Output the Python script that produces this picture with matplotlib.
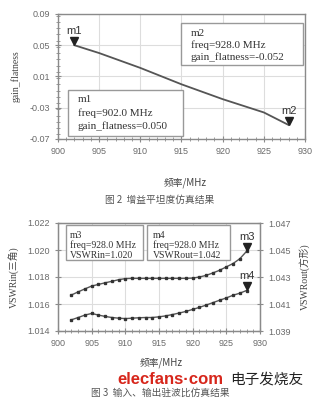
import matplotlib
matplotlib.use("Agg")
import matplotlib.pyplot as plt
import matplotlib.transforms as mtransforms
from matplotlib.patches import Rectangle
from matplotlib.ticker import MultipleLocator

# gain flatness vs frequency
freq_gf = [902, 905, 910, 915, 920, 925, 928]
gain_flatness = [0.050, 0.040, 0.021, 0.000, -0.019, -0.036, -0.052]

# input / output VSWR, 1 MHz steps
freq_vswr = list(range(902, 929))
vswr_in = [1.01667, 1.01690, 1.01712, 1.01733, 1.01745, 1.01757, 1.01768, 1.01780,
           1.01788, 1.01790, 1.01790, 1.01790, 1.01790, 1.01790, 1.01790, 1.01790,
           1.01790, 1.01790, 1.01792, 1.01800, 1.01812, 1.01830, 1.01850, 1.01875,
           1.01900, 1.01935, 1.01990]
vswr_out = [1.03983, 1.04000, 1.04018, 1.04030, 1.04018, 1.04008, 1.04000, 1.03995,
            1.03992, 1.03995, 1.03998, 1.04000, 1.04000, 1.04005, 1.04012, 1.04022,
            1.04033, 1.04045, 1.04060, 1.04075, 1.04092, 1.04110, 1.04128, 1.04145,
            1.04165, 1.04180, 1.04200]

W, H = 322, 400
cjk = ['Noto Sans CJK SC', 'DejaVu Sans']
tick_c = '#6a6a6a'
line_c = '#555555'
frame_c = '#8a8a8a'


def rect(l, t, r, b):
    return [l / W, 1 - b / H, (r - l) / W, (b - t) / H]


def style_axes(ax):
    for s in ax.spines.values():
        s.set_color(frame_c)
        s.set_linewidth(1.0)
    ax.grid(True, which='major', color='#dddddd', lw=0.8)
    ax.tick_params(which='both', colors=frame_c, labelcolor=tick_c,
                   labelsize=6.5, direction='inout')
    ax.tick_params(which='major', length=5)
    ax.tick_params(which='minor', length=2.5)
    for lab in ax.get_xticklabels() + ax.get_yticklabels():
        lab.set_family('Liberation Sans')


def marker_tag(ax, x, y, name):
    off = mtransforms.offset_copy(ax.transData, fig=fig, x=0, y=3, units='points')
    ax.plot([x], [y], marker='v', color='#222222', ms=5.5, transform=off,
            clip_on=False, zorder=5)
    ax.annotate(name, (x, y), xytext=(0, 6.5), textcoords='offset points',
                ha='center', va='bottom', fontsize=8, color='#333333',
                family='Liberation Sans', annotation_clip=False)


def info_box(l, t, r, b, lines, step, size=8, pad=10):
    fig.add_artist(Rectangle((l / W, 1 - b / H), (r - l) / W, (b - t) / H,
                             transform=fig.transFigure, facecolor='white',
                             edgecolor='#999999', lw=1.0, zorder=6))
    for i, s in enumerate(lines):
        fig.text((l + pad) / W, 1 - (t + 10 + i * step) / H, s, fontsize=size,
                 family='Liberation Serif', color='#333333', va='center',
                 zorder=7)


fig = plt.figure(figsize=(W / 100, H / 100), dpi=100)
fig.patch.set_facecolor('white')

# --- gain flatness
ax1 = fig.add_axes(rect(58, 14, 305, 139))
ax1.plot(freq_gf, gain_flatness, color=line_c, lw=1.3)
ax1.set_xlim(900, 930)
ax1.set_ylim(-0.07, 0.09)
ax1.set_xticks(range(900, 931, 5))
ax1.set_yticks([-0.07, -0.03, 0.01, 0.05, 0.09])
ax1.set_yticklabels(['-0.07', '-0.03', '0.01', '0.05', '0.09'])
ax1.xaxis.set_minor_locator(MultipleLocator(1))
ax1.yaxis.set_minor_locator(MultipleLocator(0.008))
style_axes(ax1)
ax1.set_ylabel('gain_flatness', family='Liberation Serif', fontsize=7,
               color='#444444', labelpad=6)
marker_tag(ax1, freq_gf[0], gain_flatness[0], 'm1')
marker_tag(ax1, freq_gf[-1], gain_flatness[-1], 'm2')

info_box(181, 23, 303, 65, ['m2', 'freq=928.0 MHz', 'gain_flatness=-0.052'], 12)
info_box(68, 90, 183, 136, ['m1', 'freq=902.0 MHz', 'gain_flatness=0.050'], 13)

fig.text(185 / W, 1 - 183 / H, '频率/MHz', family=cjk, fontsize=7,
         color='#444444', ha='center', va='center')
fig.text(160 / W, 1 - 200 / H, '图 2  增益平坦度仿真结果', family=cjk, fontsize=7,
         color='#555555', ha='center', va='center')

# --- VSWR in / out
ax2 = fig.add_axes(rect(58, 223, 260, 331))
ax2.plot(freq_vswr, vswr_in, color=line_c, lw=1.0, marker='s', ms=2.0,
         mfc='#333333', mec='#333333')
ax2.set_xlim(900, 930)
ax2.set_ylim(1.014, 1.022)
ax2.set_xticks(range(900, 931, 5))
ax2.set_yticks([1.014, 1.016, 1.018, 1.020, 1.022])
ax2.set_yticklabels(['1.014', '1.016', '1.018', '1.020', '1.022'])
ax2.xaxis.set_minor_locator(MultipleLocator(1))
style_axes(ax2)
ax2.set_ylabel('VSWRin(三角)', family=['Liberation Serif'] + cjk, fontsize=7,
               color='#444444', labelpad=6)

ax3 = ax2.twinx()
ax3.plot(freq_vswr, vswr_out, color=line_c, lw=1.0, marker='s', ms=2.0,
         mfc='#333333', mec='#333333')
ax3.set_ylim(1.039, 1.047)
ax3.set_yticks([1.039, 1.041, 1.043, 1.045, 1.047])
ax3.set_yticklabels(['1.039', '1.041', '1.043', '1.045', '1.047'])
ax3.tick_params(colors=frame_c, labelcolor=tick_c, labelsize=6.5,
                direction='inout', length=5)
for lab in ax3.get_yticklabels():
    lab.set_family('Liberation Sans')
for s in ax3.spines.values():
    s.set_color(frame_c)
ax3.set_ylabel('VSWRout(方形)', family=['Liberation Serif'] + cjk, fontsize=7,
               color='#444444', labelpad=6)
marker_tag(ax2, freq_vswr[-1], vswr_in[-1], 'm3')
marker_tag(ax3, freq_vswr[-1], vswr_out[-1], 'm4')

info_box(66, 225, 143, 260, ['m3', 'freq=928.0 MHz', 'VSWRin=1.020'], 10.5,
         size=7, pad=4)
info_box(147, 225, 230, 260, ['m4', 'freq=928.0 MHz', 'VSWRout=1.042'], 10.5,
         size=7, pad=6)

fig.text(161 / W, 1 - 363 / H, '频率/MHz', family=cjk, fontsize=7,
         color='#444444', ha='center', va='center')
fig.text(160 / W, 1 - 393 / H, '图 3  输入、输出驻波比仿真结果', family=cjk,
         fontsize=7, color='#555555', ha='center', va='center')

# site watermark
fig.text(117 / W, 1 - 380 / H, 'elecfans·com', family='Liberation Sans',
         fontweight='bold', fontsize=12, color='#d7261b', va='center',
         zorder=8)
fig.text(230 / W, 1 - 380 / H, '电子发烧友', family=cjk, fontsize=10.5,
         color='#222222', va='center', zorder=8)

fig.savefig('out.png', dpi=100)
